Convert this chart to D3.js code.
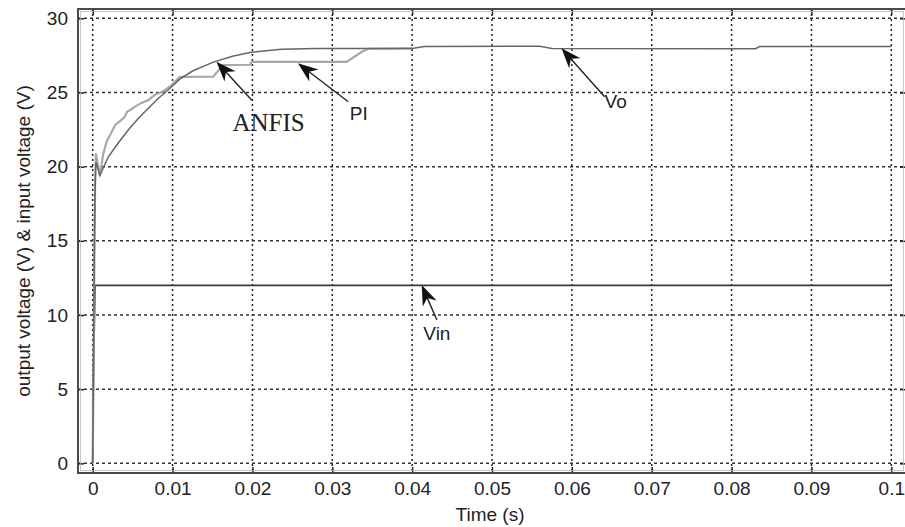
<!DOCTYPE html>
<html><head><meta charset="utf-8">
<script src="https://cdn.jsdelivr.net/npm/d3@7"></script>
<style>html,body{margin:0;padding:0;background:#fff;}svg{display:block;}</style>
</head><body>
<svg id="c" width="905" height="527"></svg>
<script>
// ---- data ----
const xTicks = [0, 0.01, 0.02, 0.03, 0.04, 0.05, 0.06, 0.07, 0.08, 0.09, 0.1];
const xTickLabels = ["0","0.01","0.02","0.03","0.04","0.05","0.06","0.07","0.08","0.09","0.1"];
const yTicks = [0, 5, 10, 15, 20, 25, 30];
const yTickLabels = ["0","5","10","15","20","25","30"];

const anfisT = [0,0.0001,0.0002,0.0003,0.0004,0.0006,0.0009,0.0013,0.002,0.0032,0.0045,0.0057,0.007,0.0082,0.0095,0.0109,0.0125,0.0151,0.0175,0.0197,0.0236,0.028,0.040,0.0415,0.056,0.0575,0.083,0.0835,0.1];
const anfisV = [0,7,14,18.5,20.3,20.0,19.4,19.9,20.7,21.6,22.5,23.25,23.95,24.6,25.2,25.9,26.45,27.05,27.45,27.7,27.92,27.97,27.97,28.1,28.12,27.97,27.95,28.1,28.1];

const piT = [0,0.0001,0.0002,0.0003,0.0004,0.0006,0.0009,0.0013,0.00175,0.0022,0.0028,0.0036,0.004,0.0043,0.0047,0.0053,0.0061,0.007,0.0078,0.0085,0.009,0.0099,0.0109,0.0151,0.0163,0.0197,0.0199,0.0318,0.0337,0.0345,0.040];
const piV = [0,6,13,19,20.9,20.3,19.4,20.8,21.7,22.15,22.8,23.15,23.35,23.7,23.82,24.05,24.3,24.5,24.85,25.0,25.15,25.5,26.05,26.07,26.85,26.87,27.07,27.07,27.75,27.95,27.97];

const vinT = [0,0.00005,0.0001,0.0002,0.0003,0.1];
const vinV = [0,3,6,9,12,12];

const annotations = [
  {label:"ANFIS", serif:true, tip:[0.0155,27.08], tail:[0.0199,24.5], text:[0.0175,22.4]},
  {label:"PI", tip:[0.0257,26.97], tail:[0.0320,24.38], text:[0.0322,23.15]},
  {label:"Vo", tip:[0.0587,27.98], tail:[0.0641,24.72], text:[0.0641,23.96]},
  {label:"Vin", tip:[0.0412,12.02], tail:[0.0431,9.66], text:[0.0414,8.31]}
];

// ---- layout ----
const L = 78, R = 906, T = 9, B = 473;
const svg = d3.select("#c");
const x = d3.scaleLinear().domain([-0.00184, 0.10184]).range([L, R]);
const y = d3.scaleLinear().domain([-0.65, 30.63]).range([B, T]);
const font = "'Liberation Sans', Arial, Helvetica, sans-serif";

// grid
const grid = svg.append("g");
grid.selectAll("line.gx").data(xTicks).join("line")
  .attr("x1", d => x(d)).attr("x2", d => x(d)).attr("y1", T).attr("y2", B)
  .attr("stroke", "#222").attr("stroke-width", 1.5).attr("stroke-dasharray", "2,3");
grid.selectAll("line.gy").data(yTicks).join("line")
  .attr("y1", d => y(d)).attr("y2", d => y(d)).attr("x1", L).attr("x2", R)
  .attr("stroke", "#333").attr("stroke-width", 1.5).attr("stroke-dasharray", "3,3");

// axes (ticks inside)
const axB = d3.axisBottom(x).tickValues(xTicks).tickSize(-6).tickFormat((d,i) => xTickLabels[i]).tickPadding(9);
const axT = d3.axisTop(x).tickValues(xTicks).tickSize(-6).tickFormat("");
const axLft = d3.axisLeft(y).tickValues(yTicks).tickSize(-6).tickFormat((d,i) => yTickLabels[i]).tickPadding(10);
const axRgt = d3.axisRight(y).tickValues(yTicks).tickSize(-6).tickFormat("");
function styleAx(g){
  g.select(".domain").remove();
  g.selectAll(".tick line").attr("stroke", "#222").attr("stroke-width", 1.5);
  g.selectAll(".tick text").attr("fill", "#222").style("font-family", font).style("font-size", "19px");
}
svg.append("g").attr("transform", `translate(0,${B})`).call(axB).call(styleAx);
svg.append("g").attr("transform", `translate(0,${T})`).call(axT).call(styleAx);
svg.append("g").attr("transform", `translate(${L},0)`).call(axLft).call(styleAx);
svg.append("g").attr("transform", `translate(${R},0)`).call(axRgt).call(styleAx);

// series
const line = d3.line().x(d => x(d[0])).y(d => y(d[1]));
const zip = (a, b) => a.map((t, i) => [t, b[i]]);
svg.append("path").datum(zip(vinT, vinV)).attr("d", line)
  .attr("fill", "none").attr("stroke", "#3a3a3a").attr("stroke-width", 1.6);
svg.append("path").datum(zip(piT, piV)).attr("d", line)
  .attr("fill", "none").attr("stroke", "#a8a8a8").attr("stroke-width", 2.2);
svg.append("path").datum(zip(anfisT, anfisV)).attr("d", line)
  .attr("fill", "none").attr("stroke", "#666").attr("stroke-width", 1.5);

// frame
svg.append("rect").attr("x", L).attr("y", T).attr("width", R - L).attr("height", B - T)
  .attr("fill", "none").attr("stroke", "#4a4a4a").attr("stroke-width", 2);
svg.append("rect").attr("x", L + 2.5).attr("y", T + 2.5).attr("width", R - L - 5).attr("height", B - T - 5)
  .attr("fill", "none").attr("stroke", "#bbb").attr("stroke-width", 0.8);

// annotations
const ann = svg.append("g");
annotations.forEach(a => {
  const tx = x(a.tip[0]), ty = y(a.tip[1]);
  const sx = x(a.tail[0]), sy = y(a.tail[1]);
  const ang = Math.atan2(ty - sy, tx - sx);
  const hl = 20, hw = 7.5;
  const bx = tx - hl * Math.cos(ang), by = ty - hl * Math.sin(ang);
  const nx = tx - hl * 0.7 * Math.cos(ang), ny = ty - hl * 0.7 * Math.sin(ang);
  const px = -Math.sin(ang), py = Math.cos(ang);
  ann.append("line").attr("x1", sx).attr("y1", sy).attr("x2", nx).attr("y2", ny)
    .attr("stroke", "#222").attr("stroke-width", 1.4);
  ann.append("path").attr("d",
      `M${tx},${ty}L${bx + px*hw},${by + py*hw}L${nx},${ny}L${bx - px*hw},${by - py*hw}Z`)
    .attr("fill", "#111");
  ann.append("text").attr("x", x(a.text[0])).attr("y", y(a.text[1]))
    .text(a.label).attr("fill", "#222")
    .style("font-family", a.serif ? "'Liberation Serif', 'Times New Roman', serif" : font)
    .style("font-size", a.serif ? "25px" : "19px");
});

// axis titles
svg.append("text").attr("x", (L + R) / 2 - 2).attr("y", 521).attr("text-anchor", "middle")
  .text("Time (s)").attr("fill", "#222").style("font-family", font).style("font-size", "19px");
svg.append("text").attr("transform", `translate(30,${(T + B) / 2}) rotate(-90)`).attr("text-anchor", "middle")
  .text("output voltage (V) & input voltage (V)").attr("fill", "#222")
  .style("font-family", font).style("font-size", "19px");
</script>
</body></html>
